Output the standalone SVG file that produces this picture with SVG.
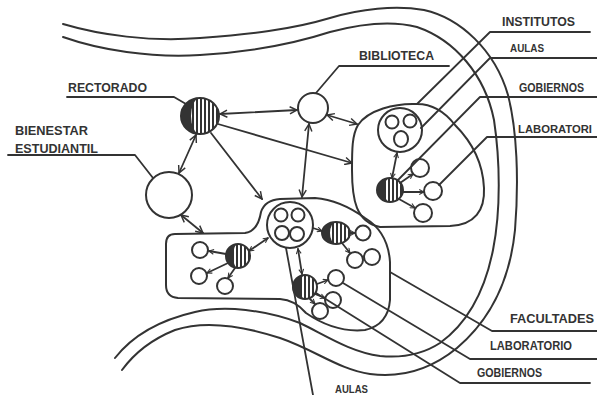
<svg xmlns="http://www.w3.org/2000/svg" width="597" height="395" viewBox="0 0 597 395">
<style>
  .ln{fill:none;stroke:#333;stroke-width:2;stroke-linecap:round;stroke-linejoin:round}
  .ld{fill:none;stroke:#333;stroke-width:1.8;stroke-linecap:round;stroke-linejoin:round}
  .n{fill:#fff;stroke:#333;stroke-width:2}
  .h{fill:url(#hatch);stroke:#333;stroke-width:2}
  .dk{fill:#333}
  .t{font-family:"Liberation Sans",Arial,sans-serif;font-weight:bold;font-size:12.5px;fill:#333}
  .ts{font-size:10px}
  .tm{font-size:11.5px}
</style>
<defs>
  <pattern id="hatch" patternUnits="userSpaceOnUse" width="4" height="4">
    <rect width="4" height="4" fill="#fff"/>
    <rect width="2" height="4" fill="#333"/>
  </pattern>
  <marker id="a" viewBox="0 0 10 10" refX="9" refY="5" markerWidth="9" markerHeight="9" markerUnits="userSpaceOnUse" orient="auto-start-reverse">
    <path d="M1,1 L9,5 L1,9" fill="none" stroke="#333" stroke-width="1.6"/>
  </marker>
  <marker id="s" viewBox="0 0 10 10" refX="9" refY="5" markerWidth="6" markerHeight="6" markerUnits="userSpaceOnUse" orient="auto-start-reverse">
    <path d="M1,1 L9,5 L1,9" fill="none" stroke="#333" stroke-width="1.8"/>
  </marker>
</defs>
<rect width="597" height="395" fill="#fff"/>

<g id="campus">
  <path class="ln" d="M63,24 C100,35 150,42 200,38 C250,34 290,30 330,18 C360,9 395,5 424,10 C460,18 495,50 508,95 C517,130 519,180 515,230 C510,280 490,320 457,348 C430,370 400,378 370,374 C340,370 315,350 280,338 C240,325 205,320 175,330 C150,340 133,355 122,370"/>
  <path class="ln" d="M63,37 C100,50 150,58 200,55 C250,52 290,45 330,32 C360,24 390,20 417,27 C455,40 485,75 494,120 C500,160 501,210 493,250 C484,295 465,325 440,343 C420,356 400,358 380,356 C350,352 325,335 300,323 C265,310 225,305 195,312 C160,320 133,335 115,358"/>
</g>

<g id="institutos">
  <path class="ln" d="M417,104 C395,103 368,110 358,125 C352,135 352,150 352,170 C352,200 356,222 380,227 L450,226 C475,225 485,210 484,188 C483,165 475,145 455,125 C445,112 432,104 417,104 Z"/>
  <g id="inst-aulas">
    <circle class="n" cx="400" cy="130" r="22"/>
    <circle class="n" cx="392" cy="122" r="6.5"/>
    <circle class="n" cx="410" cy="121" r="6.5"/>
    <ellipse class="n" cx="401" cy="139" rx="7" ry="8"/>
  </g>
  <g id="inst-gobierno">
    <ellipse class="h" cx="390" cy="190" rx="13" ry="12"/>
    <path class="dk" d="M390,178 A13,12 0 0 0 390,202 A6,12 0 0 1 390,178 Z"/>
  </g>
  <g id="inst-lab">
    <circle class="n" cx="420" cy="168" r="9"/>
    <circle class="n" cx="433" cy="191" r="9"/>
    <circle class="n" cx="423" cy="213" r="9"/>
  </g>
</g>

<g id="facultades">
  <path class="ln" d="M175,234 L245,233 Q258,231 261,212 Q265,200 280,199 L315,198 Q340,200 365,218 Q388,232 390,262 L390,300 Q388,325 365,330 Q335,333 306,313 Q295,300 280,299 L178,298 Q166,297 166,285 L166,244 Q166,234 175,234 Z"/>
  <g id="fac-aulas">
    <circle class="n" cx="290" cy="225" r="23"/>
    <circle class="n" cx="281" cy="215" r="6.5"/>
    <circle class="n" cx="298" cy="215" r="6.5"/>
    <circle class="n" cx="282" cy="233" r="7"/>
    <circle class="n" cx="297" cy="234" r="7"/>
  </g>
  <g id="fac-left">
    <ellipse class="h" cx="238" cy="256" rx="12" ry="12"/>
    <path class="dk" d="M238,244 A12,12 0 0 0 238,268 A5,12 0 0 1 238,244 Z"/>
    <circle class="n" cx="200" cy="250" r="8"/>
    <circle class="n" cx="199" cy="276" r="8"/>
    <circle class="n" cx="225" cy="286" r="8"/>
  </g>
  <g id="fac-mid">
    <ellipse class="h" cx="336" cy="233" rx="14" ry="11"/>
    <path class="dk" d="M336,222 A14,11 0 0 0 336,244 A6,11 0 0 1 336,222 Z"/>
    <circle class="n" cx="363" cy="233" r="7.5"/>
    <circle class="n" cx="355" cy="260" r="8"/>
    <circle class="n" cx="372" cy="257" r="8"/>
  </g>
  <g id="fac-bottom">
    <ellipse class="h" cx="305" cy="287" rx="12" ry="12"/>
    <path class="dk" d="M305,275 A12,12 0 0 0 305,299 A5,12 0 0 1 305,275 Z"/>
    <circle class="n" cx="336" cy="278" r="8"/>
    <circle class="n" cx="333" cy="300" r="8"/>
    <circle class="n" cx="320" cy="311" r="8"/>
  </g>
</g>

<g id="rectorado">
  <ellipse class="h" cx="200" cy="116" rx="19" ry="18"/>
  <path class="dk" d="M200,98 A19,18 0 0 0 200,134 A9,18 0 0 1 200,98 Z"/>
</g>
<g id="biblioteca">
  <circle class="n" cx="313" cy="108" r="15"/>
</g>
<g id="bienestar">
  <circle class="n" cx="169" cy="195" r="23"/>
</g>

<g id="connectors">
  <path class="ld" marker-start="url(#a)" marker-end="url(#a)" d="M220,114 L297,110"/>
  <path class="ld" marker-end="url(#a)" d="M218,124 L352,163"/>
  <path class="ld" marker-start="url(#a)" marker-end="url(#a)" d="M196,135 L179,173"/>
  <path class="ld" marker-end="url(#a)" d="M211,133 L262,199"/>
  <path class="ld" marker-start="url(#a)" marker-end="url(#a)" d="M309,124 L302,197"/>
  <path class="ld" marker-start="url(#a)" marker-end="url(#a)" d="M327,115 L357,124"/>
  <path class="ld" marker-start="url(#a)" marker-end="url(#a)" d="M181,215 L203,233"/>
  <path class="ld" marker-start="url(#s)" marker-end="url(#s)" d="M249,251 L268,238"/>
  <path class="ld" marker-end="url(#s)" d="M313,228 L322,231"/>
  <path class="ld" marker-start="url(#s)" marker-end="url(#s)" d="M298,249 L302,274"/>
  <path class="ld" marker-end="url(#s)" d="M226,254 L209,251"/>
  <path class="ld" marker-end="url(#s)" d="M228,263 L207,273"/>
  <path class="ld" marker-end="url(#s)" d="M235,268 L228,278"/>
  <path class="ld" marker-end="url(#s)" d="M350,233 L355,233"/>
  <path class="ld" marker-end="url(#s)" d="M342,243 L350,253"/>
  <path class="ld" marker-end="url(#s)" d="M317,284 L328,280"/>
  <path class="ld" marker-end="url(#s)" d="M315,294 L325,298"/>
  <path class="ld" marker-end="url(#s)" d="M309,298 L315,304"/>
  <path class="ld" marker-start="url(#s)" marker-end="url(#s)" d="M392,178 L397,153"/>
  <path class="ld" marker-end="url(#s)" d="M400,183 L413,174"/>
  <path class="ld" marker-end="url(#s)" d="M403,192 L424,192"/>
  <path class="ld" marker-end="url(#s)" d="M399,199 L415,208"/>
</g>

<g id="leaders">
  <path class="ld" d="M67,97 L174,97 L186,104"/>
  <path class="ld" d="M8,155 L135,155 L153,178"/>
  <path class="ld" d="M449,66 L339,66 L316,93"/>
  <path class="ld" d="M590,32 L490,32 L417,104"/>
  <path class="ld" d="M597,58 L490,58 L421,128"/>
  <path class="ld" d="M597,97 L480,97 L398,180"/>
  <path class="ld" d="M597,137 L487,137 L439,185"/>
  <path class="ld" d="M597,331 L492,331 L390,272"/>
  <path class="ld" d="M597,359 L470,359 L343,283"/>
  <path class="ld" d="M590,383 L460,383 L316,293"/>
  <path class="ld" d="M286,248 L313,395"/>
</g>

<g id="labels">
  <text class="t" x="68" y="92" textLength="79" lengthAdjust="spacingAndGlyphs">RECTORADO</text>
  <text class="t" x="15" y="135" textLength="73" lengthAdjust="spacingAndGlyphs">BIENESTAR</text>
  <text class="t" x="15" y="153" textLength="83" lengthAdjust="spacingAndGlyphs">ESTUDIANTIL</text>
  <text class="t" x="359" y="60" textLength="75" lengthAdjust="spacingAndGlyphs">BIBLIOTECA</text>
  <text class="t" x="502" y="26" textLength="73" lengthAdjust="spacingAndGlyphs">INSTITUTOS</text>
  <text class="t ts" x="510" y="52" textLength="34" lengthAdjust="spacingAndGlyphs">AULAS</text>
  <text class="t" x="519" y="92" textLength="65" lengthAdjust="spacingAndGlyphs">GOBIERNOS</text>
  <text class="t tm" x="518" y="133" textLength="74" lengthAdjust="spacingAndGlyphs">LABORATORI</text>
  <text class="t" x="510" y="323" textLength="84" lengthAdjust="spacingAndGlyphs">FACULTADES</text>
  <text class="t" x="490" y="350" textLength="82" lengthAdjust="spacingAndGlyphs">LABORATORIO</text>
  <text class="t" x="477" y="377" textLength="65" lengthAdjust="spacingAndGlyphs">GOBIERNOS</text>
  <text class="t ts" x="335" y="393" textLength="33" lengthAdjust="spacingAndGlyphs">AULAS</text>
</g>
</svg>
